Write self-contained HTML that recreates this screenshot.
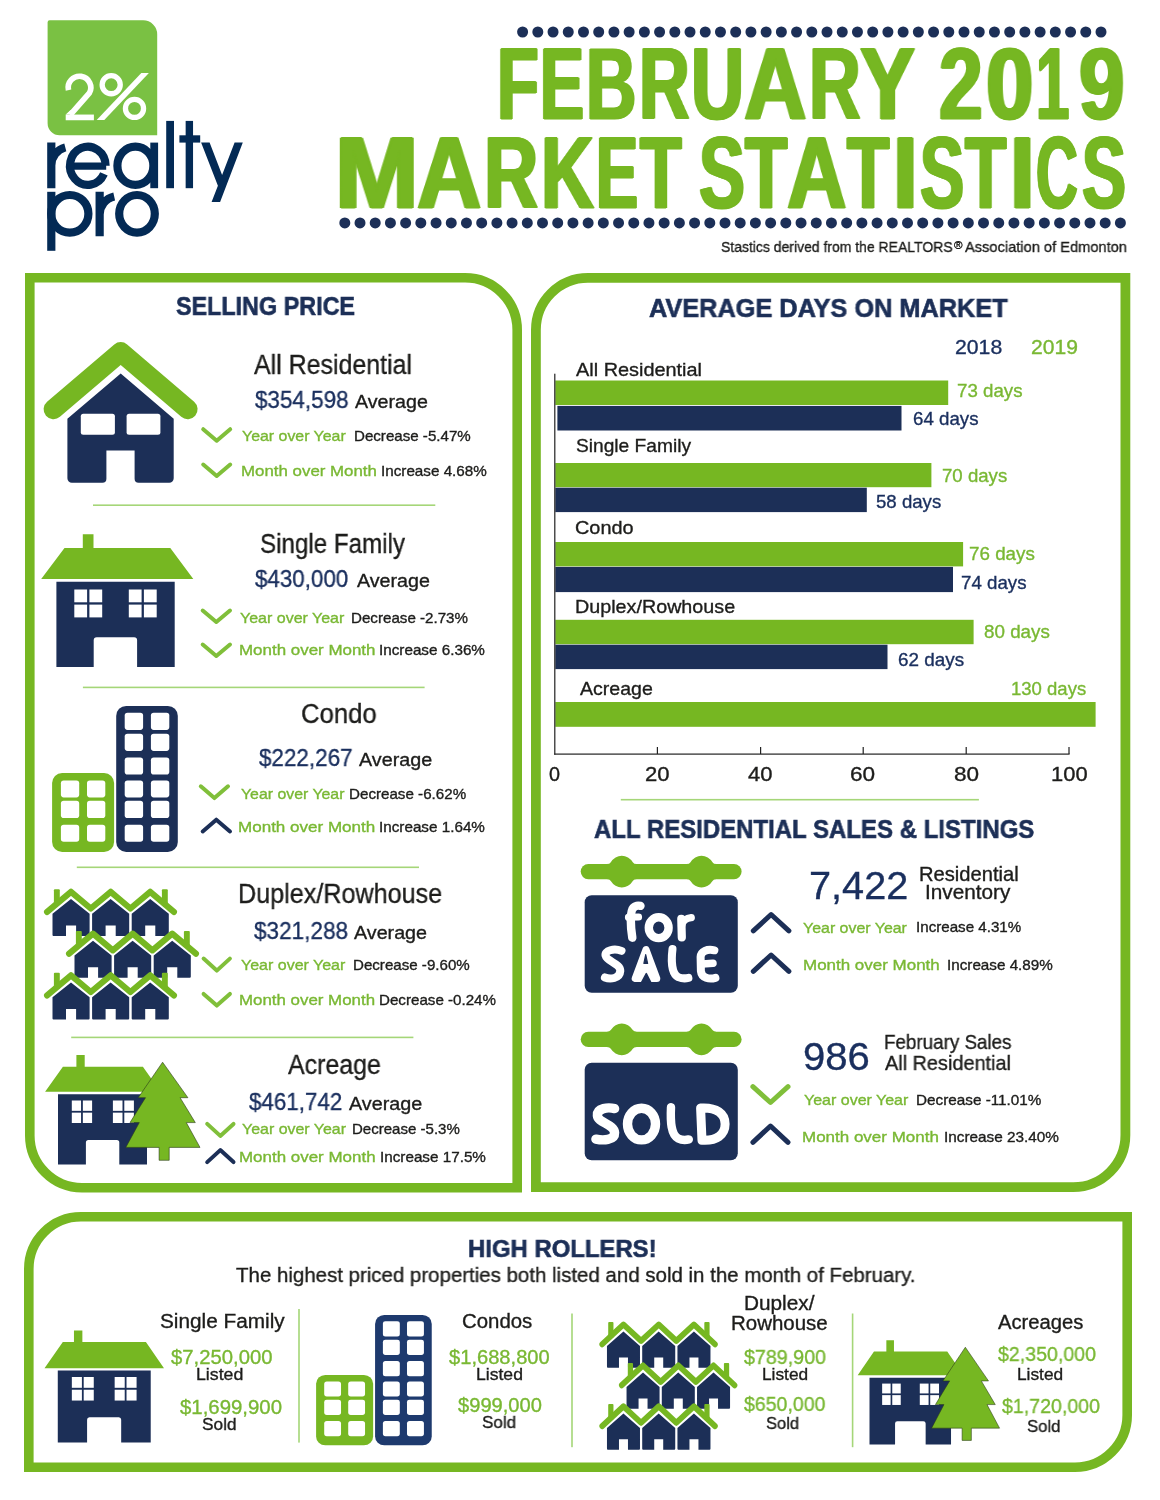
<!DOCTYPE html>
<html><head><meta charset="utf-8"><title>February 2019 Market Statistics</title>
<style>
html,body{margin:0;padding:0;background:#fff;}
body{width:1160px;height:1500px;position:relative;overflow:hidden;font-family:"Liberation Sans",sans-serif;}
svg.bg{position:absolute;left:0;top:0;}
.t{position:absolute;white-space:pre;line-height:1;transform-origin:0 0;font-family:"Liberation Sans",sans-serif;will-change:transform;}
</style></head><body>
<svg class="bg" width="1160" height="1500" viewBox="0 0 1160 1500">
<path d="M29.8,277.8 L465.00000000000006,277.8 A52.2,52.2 0 0 1 517.2,330.0 L517.2,1187.7 L82.0,1187.7 A52.2,52.2 0 0 1 29.8,1135.5 L29.8,277.8 Z" fill="#fff" stroke="#76B722" stroke-width="9.6" stroke-linejoin="miter"/>
<path d="M588.0,277.9 L1125.3999999999999,277.9 L1125.3999999999999,1135.0 A52.1,52.1 0 0 1 1073.3,1187.1 L535.9,1187.1 L535.9,330.0 A52.1,52.1 0 0 1 588.0,277.9 Z" fill="#fff" stroke="#76B722" stroke-width="9.8" stroke-linejoin="miter"/>
<path d="M81.0,1216.8 L1127.2,1216.8 L1127.2,1415.0 A52.2,52.2 0 0 1 1075.0,1467.2 L28.8,1467.2 L28.8,1269.0 A52.2,52.2 0 0 1 81.0,1216.8 Z" fill="#fff" stroke="#76B722" stroke-width="9.6" stroke-linejoin="miter"/>
<path d="M49.6,20.3 H143.2 A14,14 0 0 1 157.2,34.3 V135.2 H59.6 A12,12 0 0 1 47.6,123.2 V22.3 A2,2 0 0 1 49.6,20.3 Z" fill="#7AC143"/>
<path d="M51.3,142.6 V188.2 M51.3,165.4 A18.6,18.6 0 0 1 65.3,147.4" fill="none" stroke="#032A55" stroke-width="8.2"/>
<path d="M69.5,166.1 H106.2" fill="none" stroke="#032A55" stroke-width="7.2"/>
<path d="M105.6,165.8 A17.8,19.1 0 1 0 103.93,173.87" fill="none" stroke="#032A55" stroke-width="8.2"/>
<ellipse cx="135.4" cy="165.8" rx="18" ry="19.1" fill="none" stroke="#032A55" stroke-width="8.2"/>
<path d="M154.2,142.6 V188.2" fill="none" stroke="#032A55" stroke-width="7.8"/>
<path d="M170.1,120.9 V188.2" fill="none" stroke="#032A55" stroke-width="7.8"/>
<path d="M189.35,120.9 V188.2" fill="none" stroke="#032A55" stroke-width="7.4"/>
<path d="M179.4,138.95 H200.2" fill="none" stroke="#032A55" stroke-width="7.3"/>
<path d="M201.1,142.6 L209.6,142.6 L222.1,174.9 L234.6,142.6 L242.8,142.6 L220.1,202 L211.6,202 L217.9,185.8 Z" fill="#032A55"/>
<path d="M51.3,191.8 V250.8" fill="none" stroke="#032A55" stroke-width="8.2"/>
<ellipse cx="69.8" cy="213.8" rx="18.6" ry="18.8" fill="none" stroke="#032A55" stroke-width="8.2"/>
<path d="M99.65,191.8 V236.2 M99.65,214.5 A18.6,18.6 0 0 1 114.2,196.4" fill="none" stroke="#032A55" stroke-width="8.2"/>
<ellipse cx="137" cy="213.8" rx="17.8" ry="18.8" fill="none" stroke="#032A55" stroke-width="8.2"/>
<path d="M68.5,90.1 A11.3,11.3 0 1 1 89.3,93.2 L70.2,114.8" fill="none" stroke="#fff" stroke-width="5.7"/>
<path d="M65.7,117.4 H93.9" fill="none" stroke="#fff" stroke-width="5.7"/>
<path d="M65.7,114.6 L70.6,110 L74.2,114.6 Z" fill="#fff"/>
<circle cx="111.2" cy="84.7" r="9.05" fill="none" stroke="#fff" stroke-width="5.3"/>
<circle cx="134.5" cy="108.4" r="9.05" fill="none" stroke="#fff" stroke-width="5.3"/>
<path d="M141.3,73.1 H148.9 L104.3,119.9 H96.7 Z" fill="#fff"/>
<circle cx="522.60" cy="32" r="5.5" fill="#1C2F57"/>
<circle cx="537.82" cy="32" r="5.5" fill="#1C2F57"/>
<circle cx="553.04" cy="32" r="5.5" fill="#1C2F57"/>
<circle cx="568.26" cy="32" r="5.5" fill="#1C2F57"/>
<circle cx="583.48" cy="32" r="5.5" fill="#1C2F57"/>
<circle cx="598.71" cy="32" r="5.5" fill="#1C2F57"/>
<circle cx="613.93" cy="32" r="5.5" fill="#1C2F57"/>
<circle cx="629.15" cy="32" r="5.5" fill="#1C2F57"/>
<circle cx="644.37" cy="32" r="5.5" fill="#1C2F57"/>
<circle cx="659.59" cy="32" r="5.5" fill="#1C2F57"/>
<circle cx="674.81" cy="32" r="5.5" fill="#1C2F57"/>
<circle cx="690.03" cy="32" r="5.5" fill="#1C2F57"/>
<circle cx="705.25" cy="32" r="5.5" fill="#1C2F57"/>
<circle cx="720.47" cy="32" r="5.5" fill="#1C2F57"/>
<circle cx="735.69" cy="32" r="5.5" fill="#1C2F57"/>
<circle cx="750.92" cy="32" r="5.5" fill="#1C2F57"/>
<circle cx="766.14" cy="32" r="5.5" fill="#1C2F57"/>
<circle cx="781.36" cy="32" r="5.5" fill="#1C2F57"/>
<circle cx="796.58" cy="32" r="5.5" fill="#1C2F57"/>
<circle cx="811.80" cy="32" r="5.5" fill="#1C2F57"/>
<circle cx="827.02" cy="32" r="5.5" fill="#1C2F57"/>
<circle cx="842.24" cy="32" r="5.5" fill="#1C2F57"/>
<circle cx="857.46" cy="32" r="5.5" fill="#1C2F57"/>
<circle cx="872.68" cy="32" r="5.5" fill="#1C2F57"/>
<circle cx="887.91" cy="32" r="5.5" fill="#1C2F57"/>
<circle cx="903.13" cy="32" r="5.5" fill="#1C2F57"/>
<circle cx="918.35" cy="32" r="5.5" fill="#1C2F57"/>
<circle cx="933.57" cy="32" r="5.5" fill="#1C2F57"/>
<circle cx="948.79" cy="32" r="5.5" fill="#1C2F57"/>
<circle cx="964.01" cy="32" r="5.5" fill="#1C2F57"/>
<circle cx="979.23" cy="32" r="5.5" fill="#1C2F57"/>
<circle cx="994.45" cy="32" r="5.5" fill="#1C2F57"/>
<circle cx="1009.67" cy="32" r="5.5" fill="#1C2F57"/>
<circle cx="1024.89" cy="32" r="5.5" fill="#1C2F57"/>
<circle cx="1040.12" cy="32" r="5.5" fill="#1C2F57"/>
<circle cx="1055.34" cy="32" r="5.5" fill="#1C2F57"/>
<circle cx="1070.56" cy="32" r="5.5" fill="#1C2F57"/>
<circle cx="1085.78" cy="32" r="5.5" fill="#1C2F57"/>
<circle cx="1101.00" cy="32" r="5.5" fill="#1C2F57"/>
<circle cx="344.80" cy="222.9" r="5.5" fill="#1C2F57"/>
<circle cx="360.01" cy="222.9" r="5.5" fill="#1C2F57"/>
<circle cx="375.22" cy="222.9" r="5.5" fill="#1C2F57"/>
<circle cx="390.42" cy="222.9" r="5.5" fill="#1C2F57"/>
<circle cx="405.63" cy="222.9" r="5.5" fill="#1C2F57"/>
<circle cx="420.84" cy="222.9" r="5.5" fill="#1C2F57"/>
<circle cx="436.05" cy="222.9" r="5.5" fill="#1C2F57"/>
<circle cx="451.25" cy="222.9" r="5.5" fill="#1C2F57"/>
<circle cx="466.46" cy="222.9" r="5.5" fill="#1C2F57"/>
<circle cx="481.67" cy="222.9" r="5.5" fill="#1C2F57"/>
<circle cx="496.88" cy="222.9" r="5.5" fill="#1C2F57"/>
<circle cx="512.09" cy="222.9" r="5.5" fill="#1C2F57"/>
<circle cx="527.29" cy="222.9" r="5.5" fill="#1C2F57"/>
<circle cx="542.50" cy="222.9" r="5.5" fill="#1C2F57"/>
<circle cx="557.71" cy="222.9" r="5.5" fill="#1C2F57"/>
<circle cx="572.92" cy="222.9" r="5.5" fill="#1C2F57"/>
<circle cx="588.13" cy="222.9" r="5.5" fill="#1C2F57"/>
<circle cx="603.33" cy="222.9" r="5.5" fill="#1C2F57"/>
<circle cx="618.54" cy="222.9" r="5.5" fill="#1C2F57"/>
<circle cx="633.75" cy="222.9" r="5.5" fill="#1C2F57"/>
<circle cx="648.96" cy="222.9" r="5.5" fill="#1C2F57"/>
<circle cx="664.16" cy="222.9" r="5.5" fill="#1C2F57"/>
<circle cx="679.37" cy="222.9" r="5.5" fill="#1C2F57"/>
<circle cx="694.58" cy="222.9" r="5.5" fill="#1C2F57"/>
<circle cx="709.79" cy="222.9" r="5.5" fill="#1C2F57"/>
<circle cx="725.00" cy="222.9" r="5.5" fill="#1C2F57"/>
<circle cx="740.20" cy="222.9" r="5.5" fill="#1C2F57"/>
<circle cx="755.41" cy="222.9" r="5.5" fill="#1C2F57"/>
<circle cx="770.62" cy="222.9" r="5.5" fill="#1C2F57"/>
<circle cx="785.83" cy="222.9" r="5.5" fill="#1C2F57"/>
<circle cx="801.04" cy="222.9" r="5.5" fill="#1C2F57"/>
<circle cx="816.24" cy="222.9" r="5.5" fill="#1C2F57"/>
<circle cx="831.45" cy="222.9" r="5.5" fill="#1C2F57"/>
<circle cx="846.66" cy="222.9" r="5.5" fill="#1C2F57"/>
<circle cx="861.87" cy="222.9" r="5.5" fill="#1C2F57"/>
<circle cx="877.07" cy="222.9" r="5.5" fill="#1C2F57"/>
<circle cx="892.28" cy="222.9" r="5.5" fill="#1C2F57"/>
<circle cx="907.49" cy="222.9" r="5.5" fill="#1C2F57"/>
<circle cx="922.70" cy="222.9" r="5.5" fill="#1C2F57"/>
<circle cx="937.91" cy="222.9" r="5.5" fill="#1C2F57"/>
<circle cx="953.11" cy="222.9" r="5.5" fill="#1C2F57"/>
<circle cx="968.32" cy="222.9" r="5.5" fill="#1C2F57"/>
<circle cx="983.53" cy="222.9" r="5.5" fill="#1C2F57"/>
<circle cx="998.74" cy="222.9" r="5.5" fill="#1C2F57"/>
<circle cx="1013.95" cy="222.9" r="5.5" fill="#1C2F57"/>
<circle cx="1029.15" cy="222.9" r="5.5" fill="#1C2F57"/>
<circle cx="1044.36" cy="222.9" r="5.5" fill="#1C2F57"/>
<circle cx="1059.57" cy="222.9" r="5.5" fill="#1C2F57"/>
<circle cx="1074.78" cy="222.9" r="5.5" fill="#1C2F57"/>
<circle cx="1089.98" cy="222.9" r="5.5" fill="#1C2F57"/>
<circle cx="1105.19" cy="222.9" r="5.5" fill="#1C2F57"/>
<circle cx="1120.40" cy="222.9" r="5.5" fill="#1C2F57"/>
<path d="M203.2,429.2 L216.7,440.7 L230.2,429.2" fill="none" stroke="#80BF3A" stroke-width="4" stroke-linecap="round" stroke-linejoin="round"/>
<path d="M203.2,464.5 L216.7,476.0 L230.2,464.5" fill="none" stroke="#80BF3A" stroke-width="4" stroke-linecap="round" stroke-linejoin="round"/>
<path d="M202.7,610.5 L216.3,622.0 L230.0,610.5" fill="none" stroke="#80BF3A" stroke-width="4" stroke-linecap="round" stroke-linejoin="round"/>
<path d="M202.7,644.5 L216.3,656.0 L230.0,644.5" fill="none" stroke="#80BF3A" stroke-width="4" stroke-linecap="round" stroke-linejoin="round"/>
<path d="M200.8,786.3 L214.4,798.1 L228.0,786.3" fill="none" stroke="#80BF3A" stroke-width="4" stroke-linecap="round" stroke-linejoin="round"/>
<path d="M202.7,831.5 L216.3,819.7 L230.0,831.5" fill="none" stroke="#1C2F57" stroke-width="4" stroke-linecap="round" stroke-linejoin="round"/>
<path d="M203.6,958.6 L216.8,970.6 L229.9,958.6" fill="none" stroke="#80BF3A" stroke-width="4" stroke-linecap="round" stroke-linejoin="round"/>
<path d="M203.6,993.9 L216.8,1005.6 L229.9,993.9" fill="none" stroke="#80BF3A" stroke-width="4" stroke-linecap="round" stroke-linejoin="round"/>
<path d="M207.2,1123.9 L220.3,1135.9 L233.5,1123.9" fill="none" stroke="#80BF3A" stroke-width="4" stroke-linecap="round" stroke-linejoin="round"/>
<path d="M207.2,1162.1 L220.3,1150.1 L233.5,1162.1" fill="none" stroke="#1C2F57" stroke-width="4" stroke-linecap="round" stroke-linejoin="round"/>
<rect x="93" y="504.40" width="342.3" height="1.6" fill="#A5D678"/>
<rect x="82.9" y="686.60" width="341.7" height="1.6" fill="#A5D678"/>
<rect x="76.8" y="866.50" width="342.2" height="1.6" fill="#A5D678"/>
<rect x="71.2" y="1036.60" width="342.2" height="1.6" fill="#A5D678"/>
<path d="M67.4,418.8 L120.7,373.5 L173.7,418.8 V478.2 A4.5,4.5 0 0 1 169.2,482.7 H138.6 A4,4 0 0 1 134.6,478.7 V450.6 H106.4 V478.7 A4,4 0 0 1 102.4,482.7 H71.9 A4.5,4.5 0 0 1 67.4,478.2 Z" fill="#1C2F57"/>
<rect x="80.8" y="413.8" width="34.1" height="21" rx="2.5" fill="#fff"/>
<rect x="126.6" y="413.8" width="33.8" height="21" rx="2.5" fill="#fff"/>
<path d="M53.5,409.3 L120.7,352 L187.7,409.3" fill="none" stroke="#fff" stroke-width="26" stroke-linecap="round" stroke-linejoin="round"/>
<path d="M53.5,409.3 L120.7,352 L187.7,409.3" fill="none" stroke="#76B722" stroke-width="19.8" stroke-linecap="round" stroke-linejoin="round"/>
<g transform="translate(0,0) scale(1,1)"><path d="M41.2,579 L64.5,547.9 H82.8 V534.3 H93.5 V547.9 H170.3 L193.3,579 Z" fill="#76B722"/><g transform="translate(0,0)"><path d="M56.4,581.8 H174.7 V667.1 H137.1 V640.2 A3,3 0 0 0 134.1,637.2 H96.7 A3,3 0 0 0 93.7,640.2 V667.1 H56.4 Z" fill="#1C2F57"/><rect x="74.3" y="589.5" width="12.8" height="12.8" fill="#fff"/><rect x="89.4" y="589.5" width="12.8" height="12.8" fill="#fff"/><rect x="74.3" y="604.6" width="12.8" height="12.8" fill="#fff"/><rect x="89.4" y="604.6" width="12.8" height="12.8" fill="#fff"/><rect x="128.8" y="589.5" width="12.8" height="12.8" fill="#fff"/><rect x="143.9" y="589.5" width="12.8" height="12.8" fill="#fff"/><rect x="128.8" y="604.6" width="12.8" height="12.8" fill="#fff"/><rect x="143.9" y="604.6" width="12.8" height="12.8" fill="#fff"/></g></g>
<g transform="translate(0,0) scale(1,1)"><rect x="116.2" y="705.9" width="61.6" height="146.1" rx="10" fill="#1C2F57"/><rect x="124.7" y="712.8" width="18.4" height="17.1" rx="2.8" fill="#fff"/><rect x="150.9" y="712.8" width="18.4" height="17.1" rx="2.8" fill="#fff"/><rect x="124.7" y="733.8" width="18.4" height="17.1" rx="2.8" fill="#fff"/><rect x="150.9" y="733.8" width="18.4" height="17.1" rx="2.8" fill="#fff"/><rect x="124.7" y="757.4" width="18.4" height="17.2" rx="2.8" fill="#fff"/><rect x="150.9" y="757.4" width="18.4" height="17.2" rx="2.8" fill="#fff"/><rect x="124.7" y="780.4" width="18.4" height="17.0" rx="2.8" fill="#fff"/><rect x="150.9" y="780.4" width="18.4" height="17.0" rx="2.8" fill="#fff"/><rect x="124.7" y="800.8" width="18.4" height="17.3" rx="2.8" fill="#fff"/><rect x="150.9" y="800.8" width="18.4" height="17.3" rx="2.8" fill="#fff"/><rect x="124.7" y="824.7" width="18.4" height="17.1" rx="2.8" fill="#fff"/><rect x="150.9" y="824.7" width="18.4" height="17.1" rx="2.8" fill="#fff"/><rect x="52.1" y="773.1" width="62" height="78.9" rx="10" fill="#76B722"/><rect x="60.9" y="780.4" width="18.3" height="17.0" rx="2.8" fill="#fff"/><rect x="87" y="780.4" width="18.3" height="17.0" rx="2.8" fill="#fff"/><rect x="60.9" y="800.8" width="18.3" height="17.3" rx="2.8" fill="#fff"/><rect x="87" y="800.8" width="18.3" height="17.3" rx="2.8" fill="#fff"/><rect x="60.9" y="824.7" width="18.3" height="17.1" rx="2.8" fill="#fff"/><rect x="87" y="824.7" width="18.3" height="17.1" rx="2.8" fill="#fff"/></g>
<g transform="translate(0,0) scale(1,1)"><path d="M52.5,913.8 L71.0,899.0 L89.6,913.8 V935.0 a1,1 0 0 1 -1,1 H76.1 V925.4 H66.0 V936.0 H53.5 a1,1 0 0 1 -1,-1 Z" fill="#1C2F57"/><path d="M92.1,913.8 L110.6,899.0 L129.2,913.8 V935.0 a1,1 0 0 1 -1,1 H115.7 V925.4 H105.6 V936.0 H93.1 a1,1 0 0 1 -1,-1 Z" fill="#1C2F57"/><path d="M131.7,913.8 L150.2,899.0 L168.8,913.8 V935.0 a1,1 0 0 1 -1,1 H155.3 V925.4 H145.2 V936.0 H132.7 a1,1 0 0 1 -1,-1 Z" fill="#1C2F57"/><rect x="53.9" y="889.3" width="5.9" height="16" rx="1" fill="#76B722"/><rect x="161.9" y="889.3" width="5.9" height="16" rx="1" fill="#76B722"/><path d="M47.1,911.9 L71.0,891.8 L90.8,908.5 L110.7,891.8 L130.4,908.5 L150.2,891.8 L173.9,911.9" fill="none" stroke="#fff" stroke-width="9.4" stroke-linecap="butt" stroke-linejoin="miter" opacity="0"/><path d="M47.1,911.9 L71.0,891.8 L90.8,908.5 L110.7,891.8 L130.4,908.5 L150.2,891.8 L173.9,911.9" fill="none" stroke="#76B722" stroke-width="6.2" stroke-linecap="round" stroke-linejoin="round"/><path d="M74.5,955.6 L93.0,940.8 L111.6,955.6 V976.8 a1,1 0 0 1 -1,1 H98.1 V967.2 H88.0 V977.8 H75.5 a1,1 0 0 1 -1,-1 Z" fill="#1C2F57"/><path d="M114.1,955.6 L132.6,940.8 L151.2,955.6 V976.8 a1,1 0 0 1 -1,1 H137.7 V967.2 H127.6 V977.8 H115.1 a1,1 0 0 1 -1,-1 Z" fill="#1C2F57"/><path d="M153.7,955.6 L172.2,940.8 L190.8,955.6 V976.8 a1,1 0 0 1 -1,1 H177.3 V967.2 H167.2 V977.8 H154.7 a1,1 0 0 1 -1,-1 Z" fill="#1C2F57"/><rect x="75.9" y="931.1" width="5.9" height="16" rx="1" fill="#76B722"/><rect x="183.9" y="931.1" width="5.9" height="16" rx="1" fill="#76B722"/><path d="M69.1,953.7 L93.0,933.6 L112.8,950.3 L132.7,933.6 L152.4,950.3 L172.2,933.6 L195.9,953.7" fill="none" stroke="#fff" stroke-width="9.4" stroke-linecap="butt" stroke-linejoin="miter" opacity="0"/><path d="M69.1,953.7 L93.0,933.6 L112.8,950.3 L132.7,933.6 L152.4,950.3 L172.2,933.6 L195.9,953.7" fill="none" stroke="#76B722" stroke-width="6.2" stroke-linecap="round" stroke-linejoin="round"/><path d="M52.5,997.3 L71.0,982.5 L89.6,997.3 V1018.5 a1,1 0 0 1 -1,1 H76.1 V1008.9 H66.0 V1019.5 H53.5 a1,1 0 0 1 -1,-1 Z" fill="#1C2F57"/><path d="M92.1,997.3 L110.6,982.5 L129.2,997.3 V1018.5 a1,1 0 0 1 -1,1 H115.7 V1008.9 H105.6 V1019.5 H93.1 a1,1 0 0 1 -1,-1 Z" fill="#1C2F57"/><path d="M131.7,997.3 L150.2,982.5 L168.8,997.3 V1018.5 a1,1 0 0 1 -1,1 H155.3 V1008.9 H145.2 V1019.5 H132.7 a1,1 0 0 1 -1,-1 Z" fill="#1C2F57"/><rect x="53.9" y="972.8" width="5.9" height="16" rx="1" fill="#76B722"/><rect x="161.9" y="972.8" width="5.9" height="16" rx="1" fill="#76B722"/><path d="M47.1,995.4 L71.0,975.3 L90.8,992.0 L110.7,975.3 L130.4,992.0 L150.2,975.3 L173.9,995.4" fill="none" stroke="#fff" stroke-width="9.4" stroke-linecap="butt" stroke-linejoin="miter" opacity="0"/><path d="M47.1,995.4 L71.0,975.3 L90.8,992.0 L110.7,975.3 L130.4,992.0 L150.2,975.3 L173.9,995.4" fill="none" stroke="#76B722" stroke-width="6.2" stroke-linecap="round" stroke-linejoin="round"/></g>
<g transform="translate(0,0) scale(1,1)"><path d="M45.1,1091.7 L62.9,1066.7 H76.4 V1055 H84.7 V1066.7 H142.9 L160.6,1091.7 Z" fill="#76B722"/><path d="M58,1094.3 H147 V1164.6 H119.3 V1142.6 A2.5,2.5 0 0 0 116.8,1140.1 H88.4 A2.5,2.5 0 0 0 85.9,1142.6 V1164.6 H58 Z" fill="#1C2F57"/><rect x="71.80" y="1100.50" width="9.25" height="10.35" fill="#fff"/><rect x="82.85" y="1100.50" width="9.25" height="10.35" fill="#fff"/><rect x="71.80" y="1112.65" width="9.25" height="10.35" fill="#fff"/><rect x="82.85" y="1112.65" width="9.25" height="10.35" fill="#fff"/><rect x="112.90" y="1100.50" width="9.60" height="10.35" fill="#fff"/><rect x="124.30" y="1100.50" width="9.60" height="10.35" fill="#fff"/><rect x="112.90" y="1112.65" width="9.60" height="10.35" fill="#fff"/><rect x="124.30" y="1112.65" width="9.60" height="10.35" fill="#fff"/><path d="M162.6,1062.2 L187.9,1097.7 L180.1,1097.7 L195.3,1122.6 L186.3,1122.6 L200,1147.4 L169.2,1147.4 L169.2,1160.3 L159.1,1160.3 L159.1,1147.4 L125.8,1147.4 L139.3,1122.6 L130,1122.6 L145.5,1097.7 L138.2,1097.7 Z" fill="#76B722" stroke="#2a3a1a" stroke-width="0.6"/></g>
<rect x="555.3" y="380.5" width="392.9" height="24.5" fill="#76B722"/>
<rect x="557.4" y="405.9" width="344.1" height="24.6" fill="#1C2F57"/>
<rect x="555.3" y="463" width="376.1" height="24.2" fill="#76B722"/>
<rect x="555.3" y="487.7" width="311.5" height="24.4" fill="#1C2F57"/>
<rect x="555.3" y="542" width="407.8" height="24.4" fill="#76B722"/>
<rect x="555.3" y="566.9" width="397.7" height="25.2" fill="#1C2F57"/>
<rect x="555.3" y="619.8" width="418.3" height="24.4" fill="#76B722"/>
<rect x="555.3" y="644.7" width="332.2" height="24.4" fill="#1C2F57"/>
<rect x="555.3" y="702" width="540.3" height="24.8" fill="#76B722"/>
<rect x="554.2" y="373.7" width="1.2" height="381" fill="#222"/>
<rect x="554.2" y="753.5" width="515.4" height="1.2" fill="#222"/>
<rect x="656.8" y="747" width="1.2" height="7" fill="#222"/>
<rect x="760.0" y="747" width="1.2" height="7" fill="#222"/>
<rect x="862.6" y="747" width="1.2" height="7" fill="#222"/>
<rect x="965.6" y="747" width="1.2" height="7" fill="#222"/>
<rect x="1068.4" y="747" width="1.2" height="7" fill="#222"/>
<rect x="620.8" y="798.90" width="358.1" height="1.6" fill="#A5D678"/>
<rect x="580.7" y="864.0" width="160.9" height="15.2" rx="7.6" fill="#76B722"/>
<path d="M606.8,864.10 Q609.7,864.00 610.8,862.20 A13.4,15.3 0 0 1 632.8,862.20 Q633.9,864.00 636.8,864.10 V879.10 Q633.9,879.20 632.8,881.00 A13.4,15.3 0 0 1 610.8,881.00 Q609.7,879.20 606.8,879.10 Z" fill="#76B722"/>
<path d="M686.5,864.10 Q689.4,864.00 690.5,862.20 A13.4,15.3 0 0 1 712.5,862.20 Q713.6,864.00 716.5,864.10 V879.10 Q713.6,879.20 712.5,881.00 A13.4,15.3 0 0 1 690.5,881.00 Q689.4,879.20 686.5,879.10 Z" fill="#76B722"/>
<rect x="584.7" y="895.2" width="153.1" height="97.6" rx="7" fill="#1C2F57"/>
<rect x="580.7" y="1031.8" width="160.9" height="15.2" rx="7.6" fill="#76B722"/>
<path d="M606.8,1031.90 Q609.7,1031.80 610.8,1030.00 A13.4,15.3 0 0 1 632.8,1030.00 Q633.9,1031.80 636.8,1031.90 V1046.90 Q633.9,1047.00 632.8,1048.80 A13.4,15.3 0 0 1 610.8,1048.80 Q609.7,1047.00 606.8,1046.90 Z" fill="#76B722"/>
<path d="M686.5,1031.90 Q689.4,1031.80 690.5,1030.00 A13.4,15.3 0 0 1 712.5,1030.00 Q713.6,1031.80 716.5,1031.90 V1046.90 Q713.6,1047.00 712.5,1048.80 A13.4,15.3 0 0 1 690.5,1048.80 Q689.4,1047.00 686.5,1046.90 Z" fill="#76B722"/>
<rect x="584.7" y="1062.8" width="153.1" height="97.5" rx="7" fill="#1C2F57"/>
<path d="M632.3,937.7 C630.5,927.0 629.8,911.3 633.3,907.8 C635.5,905.4 638.3,905.4 640.5,905.9" fill="none" stroke="#fff" stroke-width="8.4" stroke-linecap="round" stroke-linejoin="round"/>
<path d="M628.4,917.3 L638.6,917.0" fill="none" stroke="#fff" stroke-width="7" stroke-linecap="round" stroke-linejoin="round"/>
<ellipse cx="658.7" cy="927.7" rx="9.9" ry="10.4" fill="none" stroke="#fff" stroke-width="8.4"/>
<path d="M681.3,918.9 L681.8,937.4" fill="none" stroke="#fff" stroke-width="8.2" stroke-linecap="round" stroke-linejoin="round"/>
<path d="M681.6,925.6 C682.4,920.6 686.7,918.0 691.2,917.6" fill="none" stroke="#fff" stroke-width="7.4" stroke-linecap="round" stroke-linejoin="round"/>
<path d="M621.5,950.9 C614.1,948.0 604.2,950.5 605.6,955.7 C607.0,961.8 620.5,963.3 620.3,971.1 C619.8,978.9 609.9,979.6 604.9,977.5" fill="none" stroke="#fff" stroke-width="8" stroke-linecap="round" stroke-linejoin="round"/>
<path d="M646.0,949.5 L635.2,978.5 L656.8,978.5 Z" fill="#fff" stroke="#fff" stroke-width="7" stroke-linejoin="round"/>
<path d="M641.2,983.2 L646.3,973.6 L651.1,983.2 Z" fill="#1C2F57" stroke="#1C2F57" stroke-width="1.5" stroke-linejoin="round"/>
<path d="M645.7,954.7 L643.9,963.4 L647.6,963.4 Z" fill="#1C2F57" stroke="#1C2F57" stroke-width="1.2" stroke-linejoin="round"/>
<path d="M672.5,949.0 C671.0,961.1 671.7,973.9 678.2,977.1 C681.7,978.5 686.0,978.5 688.4,977.9" fill="none" stroke="#fff" stroke-width="8" stroke-linecap="round" stroke-linejoin="round"/>
<path d="M714.4,950.3 C707.3,948.6 700.9,951.2 700.6,956.9 L700.9,971.1 C701.6,978.2 709.4,979.6 715.4,977.9" fill="none" stroke="#fff" stroke-width="8" stroke-linecap="round" stroke-linejoin="round"/>
<path d="M702.3,964.0 L713.0,963.3" fill="none" stroke="#fff" stroke-width="7.5" stroke-linecap="round" stroke-linejoin="round"/>
<path d="M614.6,1108.6 C608.4,1107.1 596.8,1107.8 597.4,1115.6 C597.9,1122.7 614.1,1124.1 614.6,1132.7 C614.9,1140.5 602.8,1140.5 595.9,1139.1" fill="none" stroke="#fff" stroke-width="9.4" stroke-linecap="round" stroke-linejoin="round"/>
<ellipse cx="641.5" cy="1124.1" rx="14.0" ry="15.8" fill="none" stroke="#fff" stroke-width="9.4"/>
<path d="M671.0,1107.1 C670.3,1122.0 671.0,1134.8 678.2,1138.4 C681.7,1140.2 686.0,1140.2 688.8,1139.4" fill="none" stroke="#fff" stroke-width="8.4" stroke-linecap="round" stroke-linejoin="round"/>
<path d="M700.6,1108.1 L702.0,1140.2 C716.6,1141.2 725.1,1134.8 725.1,1124.1 C725.1,1113.5 716.6,1107.1 700.6,1108.1" fill="none" stroke="#fff" stroke-width="9" stroke-linecap="round" stroke-linejoin="round"/>
<path d="M753.3,930.9 L771.1,914.5 L788.9,930.9" fill="none" stroke="#1C2F57" stroke-width="5" stroke-linecap="round" stroke-linejoin="round"/>
<path d="M753.3,971.3 L771.1,955.0 L788.9,971.3" fill="none" stroke="#1C2F57" stroke-width="5" stroke-linecap="round" stroke-linejoin="round"/>
<path d="M752.9,1086.7 L770.5,1102.5 L788.0,1086.7" fill="none" stroke="#80BF3A" stroke-width="5" stroke-linecap="round" stroke-linejoin="round"/>
<path d="M752.9,1142.3 L770.5,1126.0 L788.0,1142.3" fill="none" stroke="#1C2F57" stroke-width="5" stroke-linecap="round" stroke-linejoin="round"/>
<rect x="298.20" y="1309" width="1.6" height="133.6" fill="#A5D678"/>
<rect x="571.20" y="1313.5" width="1.6" height="133.7" fill="#A5D678"/>
<rect x="851.80" y="1313.5" width="1.6" height="133.7" fill="#A5D678"/>
<g transform="translate(12.130506245890864,879.4144196951938) scale(0.7856673241288624,0.8440797186400931)"><path d="M41.2,579 L64.5,547.9 H78.7 V534.3 H89.4 V547.9 H170.3 L193.3,579 Z" fill="#76B722"/><g transform="translate(1.7,0)"><path d="M56.4,581.8 H174.7 V667.1 H137.1 V640.2 A3,3 0 0 0 134.1,637.2 H96.7 A3,3 0 0 0 93.7,640.2 V667.1 H56.4 Z" fill="#1C2F57"/><rect x="74.3" y="589.5" width="12.8" height="12.8" fill="#fff"/><rect x="89.4" y="589.5" width="12.8" height="12.8" fill="#fff"/><rect x="74.3" y="604.6" width="12.8" height="12.8" fill="#fff"/><rect x="89.4" y="604.6" width="12.8" height="12.8" fill="#fff"/><rect x="128.8" y="589.5" width="12.8" height="12.8" fill="#fff"/><rect x="143.9" y="589.5" width="12.8" height="12.8" fill="#fff"/><rect x="128.8" y="604.6" width="12.8" height="12.8" fill="#fff"/><rect x="143.9" y="604.6" width="12.8" height="12.8" fill="#fff"/></g></g>
<g transform="translate(268.168,685.3159999999999) scale(0.92,0.892)"><rect x="116.2" y="705.9" width="61.6" height="146.1" rx="10" fill="#1E3A6E"/><rect x="124.7" y="712.8" width="18.4" height="17.1" rx="2.8" fill="#fff"/><rect x="150.9" y="712.8" width="18.4" height="17.1" rx="2.8" fill="#fff"/><rect x="124.7" y="733.8" width="18.4" height="17.1" rx="2.8" fill="#fff"/><rect x="150.9" y="733.8" width="18.4" height="17.1" rx="2.8" fill="#fff"/><rect x="124.7" y="757.4" width="18.4" height="17.2" rx="2.8" fill="#fff"/><rect x="150.9" y="757.4" width="18.4" height="17.2" rx="2.8" fill="#fff"/><rect x="124.7" y="780.4" width="18.4" height="17.0" rx="2.8" fill="#fff"/><rect x="150.9" y="780.4" width="18.4" height="17.0" rx="2.8" fill="#fff"/><rect x="124.7" y="800.8" width="18.4" height="17.3" rx="2.8" fill="#fff"/><rect x="150.9" y="800.8" width="18.4" height="17.3" rx="2.8" fill="#fff"/><rect x="124.7" y="824.7" width="18.4" height="17.1" rx="2.8" fill="#fff"/><rect x="150.9" y="824.7" width="18.4" height="17.1" rx="2.8" fill="#fff"/><rect x="52.1" y="773.1" width="62" height="78.9" rx="10" fill="#76B722"/><rect x="60.9" y="780.4" width="18.3" height="17.0" rx="2.8" fill="#fff"/><rect x="87" y="780.4" width="18.3" height="17.0" rx="2.8" fill="#fff"/><rect x="60.9" y="800.8" width="18.3" height="17.3" rx="2.8" fill="#fff"/><rect x="87" y="800.8" width="18.3" height="17.3" rx="2.8" fill="#fff"/><rect x="60.9" y="824.7" width="18.3" height="17.1" rx="2.8" fill="#fff"/><rect x="87" y="824.7" width="18.3" height="17.1" rx="2.8" fill="#fff"/></g>
<g transform="translate(560.24,450.57399999999996) scale(0.89,0.98)"><path d="M52.5,913.8 L71.0,899.0 L89.6,913.8 V935.0 a1,1 0 0 1 -1,1 H76.1 V925.4 H66.0 V936.0 H53.5 a1,1 0 0 1 -1,-1 Z" fill="#1C2F57"/><path d="M92.1,913.8 L110.6,899.0 L129.2,913.8 V935.0 a1,1 0 0 1 -1,1 H115.7 V925.4 H105.6 V936.0 H93.1 a1,1 0 0 1 -1,-1 Z" fill="#1C2F57"/><path d="M131.7,913.8 L150.2,899.0 L168.8,913.8 V935.0 a1,1 0 0 1 -1,1 H155.3 V925.4 H145.2 V936.0 H132.7 a1,1 0 0 1 -1,-1 Z" fill="#1C2F57"/><rect x="53.9" y="889.3" width="5.9" height="16" rx="1" fill="#76B722"/><rect x="161.9" y="889.3" width="5.9" height="16" rx="1" fill="#76B722"/><path d="M47.1,911.9 L71.0,891.8 L90.8,908.5 L110.7,891.8 L130.4,908.5 L150.2,891.8 L173.9,911.9" fill="none" stroke="#fff" stroke-width="9.4" stroke-linecap="butt" stroke-linejoin="miter" opacity="0"/><path d="M47.1,911.9 L71.0,891.8 L90.8,908.5 L110.7,891.8 L130.4,908.5 L150.2,891.8 L173.9,911.9" fill="none" stroke="#76B722" stroke-width="6.2" stroke-linecap="round" stroke-linejoin="round"/><path d="M74.5,955.6 L93.0,940.8 L111.6,955.6 V976.8 a1,1 0 0 1 -1,1 H98.1 V967.2 H88.0 V977.8 H75.5 a1,1 0 0 1 -1,-1 Z" fill="#1C2F57"/><path d="M114.1,955.6 L132.6,940.8 L151.2,955.6 V976.8 a1,1 0 0 1 -1,1 H137.7 V967.2 H127.6 V977.8 H115.1 a1,1 0 0 1 -1,-1 Z" fill="#1C2F57"/><path d="M153.7,955.6 L172.2,940.8 L190.8,955.6 V976.8 a1,1 0 0 1 -1,1 H177.3 V967.2 H167.2 V977.8 H154.7 a1,1 0 0 1 -1,-1 Z" fill="#1C2F57"/><rect x="75.9" y="931.1" width="5.9" height="16" rx="1" fill="#76B722"/><rect x="183.9" y="931.1" width="5.9" height="16" rx="1" fill="#76B722"/><path d="M69.1,953.7 L93.0,933.6 L112.8,950.3 L132.7,933.6 L152.4,950.3 L172.2,933.6 L195.9,953.7" fill="none" stroke="#fff" stroke-width="9.4" stroke-linecap="butt" stroke-linejoin="miter" opacity="0"/><path d="M69.1,953.7 L93.0,933.6 L112.8,950.3 L132.7,933.6 L152.4,950.3 L172.2,933.6 L195.9,953.7" fill="none" stroke="#76B722" stroke-width="6.2" stroke-linecap="round" stroke-linejoin="round"/><path d="M52.5,997.3 L71.0,982.5 L89.6,997.3 V1018.5 a1,1 0 0 1 -1,1 H76.1 V1008.9 H66.0 V1019.5 H53.5 a1,1 0 0 1 -1,-1 Z" fill="#1C2F57"/><path d="M92.1,997.3 L110.6,982.5 L129.2,997.3 V1018.5 a1,1 0 0 1 -1,1 H115.7 V1008.9 H105.6 V1019.5 H93.1 a1,1 0 0 1 -1,-1 Z" fill="#1C2F57"/><path d="M131.7,997.3 L150.2,982.5 L168.8,997.3 V1018.5 a1,1 0 0 1 -1,1 H155.3 V1008.9 H145.2 V1019.5 H132.7 a1,1 0 0 1 -1,-1 Z" fill="#1C2F57"/><rect x="53.9" y="972.8" width="5.9" height="16" rx="1" fill="#76B722"/><rect x="161.9" y="972.8" width="5.9" height="16" rx="1" fill="#76B722"/><path d="M47.1,995.4 L71.0,975.3 L90.8,992.0 L110.7,975.3 L130.4,992.0 L150.2,975.3 L173.9,995.4" fill="none" stroke="#fff" stroke-width="9.4" stroke-linecap="butt" stroke-linejoin="miter" opacity="0"/><path d="M47.1,995.4 L71.0,975.3 L90.8,992.0 L110.7,975.3 L130.4,992.0 L150.2,975.3 L173.9,995.4" fill="none" stroke="#76B722" stroke-width="6.2" stroke-linecap="round" stroke-linejoin="round"/></g>
<g transform="translate(816.372,338.11500000000024) scale(0.916,0.95)"><path d="M45.1,1091.7 L62.9,1066.7 H76.4 V1055 H84.7 V1066.7 H142.9 L160.6,1091.7 Z" fill="#76B722"/><path d="M58,1094.3 H147 V1164.6 H119.3 V1142.6 A2.5,2.5 0 0 0 116.8,1140.1 H88.4 A2.5,2.5 0 0 0 85.9,1142.6 V1164.6 H58 Z" fill="#1C2F57"/><rect x="71.80" y="1100.50" width="9.25" height="10.35" fill="#fff"/><rect x="82.85" y="1100.50" width="9.25" height="10.35" fill="#fff"/><rect x="71.80" y="1112.65" width="9.25" height="10.35" fill="#fff"/><rect x="82.85" y="1112.65" width="9.25" height="10.35" fill="#fff"/><rect x="112.90" y="1100.50" width="9.60" height="10.35" fill="#fff"/><rect x="124.30" y="1100.50" width="9.60" height="10.35" fill="#fff"/><rect x="112.90" y="1112.65" width="9.60" height="10.35" fill="#fff"/><rect x="124.30" y="1112.65" width="9.60" height="10.35" fill="#fff"/><path d="M162.6,1062.2 L187.9,1097.7 L180.1,1097.7 L195.3,1122.6 L186.3,1122.6 L200,1147.4 L169.2,1147.4 L169.2,1160.3 L159.1,1160.3 L159.1,1147.4 L125.8,1147.4 L139.3,1122.6 L130,1122.6 L145.5,1097.7 L138.2,1097.7 Z" fill="#76B722" stroke="#2a3a1a" stroke-width="0.6"/></g>
</svg>
<div class="t" style="left:497.41px;top:34.00px;font-size:101.5px;color:#76B722;font-weight:bold;transform:scaleX(0.6732);-webkit-text-stroke:1.2px #76B722;text-shadow:1.9px 0 0 #76B722,-1.9px 0 0 #76B722;">F</div>
<div class="t" style="left:539.90px;top:34.00px;font-size:101.5px;color:#76B722;font-weight:bold;transform:scaleX(0.6501);-webkit-text-stroke:1.2px #76B722;text-shadow:1.9px 0 0 #76B722,-1.9px 0 0 #76B722;">E</div>
<div class="t" style="left:586.17px;top:34.00px;font-size:101.5px;color:#76B722;font-weight:bold;transform:scaleX(0.6853);-webkit-text-stroke:1.2px #76B722;text-shadow:1.9px 0 0 #76B722,-1.9px 0 0 #76B722;">B</div>
<div class="t" style="left:638.55px;top:34.00px;font-size:101.5px;color:#76B722;font-weight:bold;transform:scaleX(0.6898);-webkit-text-stroke:1.2px #76B722;text-shadow:1.9px 0 0 #76B722,-1.9px 0 0 #76B722;">R</div>
<div class="t" style="left:691.47px;top:34.00px;font-size:101.5px;color:#76B722;font-weight:bold;transform:scaleX(0.7218);-webkit-text-stroke:1.2px #76B722;text-shadow:1.9px 0 0 #76B722,-1.9px 0 0 #76B722;">U</div>
<div class="t" style="left:744.38px;top:34.00px;font-size:101.5px;color:#76B722;font-weight:bold;transform:scaleX(0.8532);-webkit-text-stroke:1.2px #76B722;text-shadow:1.9px 0 0 #76B722,-1.9px 0 0 #76B722;">A</div>
<div class="t" style="left:808.89px;top:34.00px;font-size:101.5px;color:#76B722;font-weight:bold;transform:scaleX(0.7040);-webkit-text-stroke:1.2px #76B722;text-shadow:1.9px 0 0 #76B722,-1.9px 0 0 #76B722;">R</div>
<div class="t" style="left:859.84px;top:34.00px;font-size:101.5px;color:#76B722;font-weight:bold;transform:scaleX(0.8126);-webkit-text-stroke:1.2px #76B722;text-shadow:1.9px 0 0 #76B722,-1.9px 0 0 #76B722;">Y</div>
<div class="t" style="left:938.98px;top:34.00px;font-size:101.5px;color:#76B722;font-weight:bold;transform:scaleX(0.7731);-webkit-text-stroke:1.2px #76B722;text-shadow:1.9px 0 0 #76B722,-1.9px 0 0 #76B722;">2</div>
<div class="t" style="left:986.14px;top:34.00px;font-size:101.5px;color:#76B722;font-weight:bold;transform:scaleX(0.8400);-webkit-text-stroke:1.2px #76B722;text-shadow:1.9px 0 0 #76B722,-1.9px 0 0 #76B722;">0</div>
<div class="t" style="left:1036.13px;top:34.00px;font-size:101.5px;color:#76B722;font-weight:bold;transform:scaleX(0.5915);-webkit-text-stroke:1.2px #76B722;text-shadow:1.9px 0 0 #76B722,-1.9px 0 0 #76B722;">1</div>
<div class="t" style="left:1079.26px;top:34.00px;font-size:101.5px;color:#76B722;font-weight:bold;transform:scaleX(0.8054);-webkit-text-stroke:1.2px #76B722;text-shadow:1.9px 0 0 #76B722,-1.9px 0 0 #76B722;">9</div>
<div class="t" style="left:335.31px;top:123.00px;font-size:101.5px;color:#76B722;font-weight:bold;transform:scaleX(0.9865);-webkit-text-stroke:1.2px #76B722;text-shadow:1.9px 0 0 #76B722,-1.9px 0 0 #76B722;">M</div>
<div class="t" style="left:416.80px;top:123.00px;font-size:101.5px;color:#76B722;font-weight:bold;transform:scaleX(0.8772);-webkit-text-stroke:1.2px #76B722;text-shadow:1.9px 0 0 #76B722,-1.9px 0 0 #76B722;">A</div>
<div class="t" style="left:483.86px;top:123.00px;font-size:101.5px;color:#76B722;font-weight:bold;transform:scaleX(0.7383);-webkit-text-stroke:1.2px #76B722;text-shadow:1.9px 0 0 #76B722,-1.9px 0 0 #76B722;">R</div>
<div class="t" style="left:540.82px;top:123.00px;font-size:101.5px;color:#76B722;font-weight:bold;transform:scaleX(0.7220);-webkit-text-stroke:1.2px #76B722;text-shadow:1.9px 0 0 #76B722,-1.9px 0 0 #76B722;">K</div>
<div class="t" style="left:596.41px;top:123.00px;font-size:101.5px;color:#76B722;font-weight:bold;transform:scaleX(0.6219);-webkit-text-stroke:1.2px #76B722;text-shadow:1.9px 0 0 #76B722,-1.9px 0 0 #76B722;">E</div>
<div class="t" style="left:640.08px;top:123.00px;font-size:101.5px;color:#76B722;font-weight:bold;transform:scaleX(0.6716);-webkit-text-stroke:1.2px #76B722;text-shadow:1.9px 0 0 #76B722,-1.9px 0 0 #76B722;">T</div>
<div class="t" style="left:698.62px;top:123.00px;font-size:101.5px;color:#76B722;font-weight:bold;transform:scaleX(0.6765);-webkit-text-stroke:1.2px #76B722;text-shadow:1.9px 0 0 #76B722,-1.9px 0 0 #76B722;">S</div>
<div class="t" style="left:745.30px;top:123.00px;font-size:101.5px;color:#76B722;font-weight:bold;transform:scaleX(0.6806);-webkit-text-stroke:1.2px #76B722;text-shadow:1.9px 0 0 #76B722,-1.9px 0 0 #76B722;">T</div>
<div class="t" style="left:786.74px;top:123.00px;font-size:101.5px;color:#76B722;font-weight:bold;transform:scaleX(0.8117);-webkit-text-stroke:1.2px #76B722;text-shadow:1.9px 0 0 #76B722,-1.9px 0 0 #76B722;">A</div>
<div class="t" style="left:846.51px;top:123.00px;font-size:101.5px;color:#76B722;font-weight:bold;transform:scaleX(0.6821);-webkit-text-stroke:1.2px #76B722;text-shadow:1.9px 0 0 #76B722,-1.9px 0 0 #76B722;">T</div>
<div class="t" style="left:892.63px;top:123.00px;font-size:101.5px;color:#76B722;font-weight:bold;transform:scaleX(0.8773);-webkit-text-stroke:1.2px #76B722;text-shadow:1.9px 0 0 #76B722,-1.9px 0 0 #76B722;">I</div>
<div class="t" style="left:920.20px;top:123.00px;font-size:101.5px;color:#76B722;font-weight:bold;transform:scaleX(0.6532);-webkit-text-stroke:1.2px #76B722;text-shadow:1.9px 0 0 #76B722,-1.9px 0 0 #76B722;">S</div>
<div class="t" style="left:965.26px;top:123.00px;font-size:101.5px;color:#76B722;font-weight:bold;transform:scaleX(0.6642);-webkit-text-stroke:1.2px #76B722;text-shadow:1.9px 0 0 #76B722,-1.9px 0 0 #76B722;">T</div>
<div class="t" style="left:1010.35px;top:123.00px;font-size:101.5px;color:#76B722;font-weight:bold;transform:scaleX(0.8725);-webkit-text-stroke:1.2px #76B722;text-shadow:1.9px 0 0 #76B722,-1.9px 0 0 #76B722;">I</div>
<div class="t" style="left:1036.02px;top:123.00px;font-size:101.5px;color:#76B722;font-weight:bold;transform:scaleX(0.5711);-webkit-text-stroke:1.2px #76B722;text-shadow:1.9px 0 0 #76B722,-1.9px 0 0 #76B722;">C</div>
<div class="t" style="left:1081.79px;top:123.00px;font-size:101.5px;color:#76B722;font-weight:bold;transform:scaleX(0.6488);-webkit-text-stroke:1.2px #76B722;text-shadow:1.9px 0 0 #76B722,-1.9px 0 0 #76B722;">S</div>
<div class="t" style="left:721.26px;top:239.00px;font-size:15.5px;color:#1d1d1b;font-weight:normal;transform:scaleX(0.9009);-webkit-text-stroke:0.35px #1d1d1b;">Stastics derived from the REALTORS</div>
<div class="t" style="left:953.50px;top:240.00px;font-size:11px;color:#1d1d1b;font-weight:normal;transform:scaleX(1.0522);-webkit-text-stroke:0.35px #1d1d1b;">®</div>
<div class="t" style="left:964.60px;top:239.00px;font-size:15.5px;color:#1d1d1b;font-weight:normal;transform:scaleX(0.9444);-webkit-text-stroke:0.35px #1d1d1b;">Association of Edmonton</div>
<div class="t" style="left:175.94px;top:294.00px;font-size:25.2px;color:#1C2F57;font-weight:bold;transform:scaleX(0.9268);-webkit-text-stroke:0.6px #1C2F57;">SELLING PRICE</div>
<div class="t" style="left:254.10px;top:352.00px;font-size:27px;color:#1d1d1b;font-weight:normal;transform:scaleX(0.9238);-webkit-text-stroke:0.35px #1d1d1b;">All Residential</div>
<div class="t" style="left:255.00px;top:389.00px;font-size:23.6px;color:#1A2F5E;font-weight:normal;transform:scaleX(0.9510);-webkit-text-stroke:0.35px #1A2F5E;">$354,598</div>
<div class="t" style="left:355.20px;top:393.00px;font-size:18.3px;color:#1d1d1b;font-weight:normal;transform:scaleX(1.0747);-webkit-text-stroke:0.35px #1d1d1b;">Average</div>
<div class="t" style="left:242.35px;top:429.00px;font-size:14.8px;color:#79B833;font-weight:normal;transform:scaleX(1.0744);-webkit-text-stroke:0.35px #79B833;">Year over Year</div>
<div class="t" style="left:353.72px;top:429.00px;font-size:14.8px;color:#1d1d1b;font-weight:normal;transform:scaleX(1.0209);-webkit-text-stroke:0.35px #1d1d1b;">Decrease -5.47%</div>
<div class="t" style="left:241.28px;top:464.00px;font-size:14.8px;color:#79B833;font-weight:normal;transform:scaleX(1.1399);-webkit-text-stroke:0.35px #79B833;">Month over Month</div>
<div class="t" style="left:381.21px;top:464.00px;font-size:14.8px;color:#1d1d1b;font-weight:normal;transform:scaleX(1.0292);-webkit-text-stroke:0.35px #1d1d1b;">Increase 4.68%</div>
<div class="t" style="left:260.04px;top:531.00px;font-size:27px;color:#1d1d1b;font-weight:normal;transform:scaleX(0.8951);-webkit-text-stroke:0.35px #1d1d1b;">Single Family</div>
<div class="t" style="left:255.00px;top:568.00px;font-size:23.6px;color:#1A2F5E;font-weight:normal;transform:scaleX(0.9474);-webkit-text-stroke:0.35px #1A2F5E;">$430,000</div>
<div class="t" style="left:357.00px;top:572.00px;font-size:18.3px;color:#1d1d1b;font-weight:normal;transform:scaleX(1.0762);-webkit-text-stroke:0.35px #1d1d1b;">Average</div>
<div class="t" style="left:239.95px;top:611.00px;font-size:14.8px;color:#79B833;font-weight:normal;transform:scaleX(1.0806);-webkit-text-stroke:0.35px #79B833;">Year over Year</div>
<div class="t" style="left:350.52px;top:611.00px;font-size:14.8px;color:#1d1d1b;font-weight:normal;transform:scaleX(1.0235);-webkit-text-stroke:0.35px #1d1d1b;">Decrease -2.73%</div>
<div class="t" style="left:238.88px;top:643.00px;font-size:14.8px;color:#79B833;font-weight:normal;transform:scaleX(1.1441);-webkit-text-stroke:0.35px #79B833;">Month over Month</div>
<div class="t" style="left:378.51px;top:643.00px;font-size:14.8px;color:#1d1d1b;font-weight:normal;transform:scaleX(1.0302);-webkit-text-stroke:0.35px #1d1d1b;">Increase 6.36%</div>
<div class="t" style="left:300.50px;top:701.00px;font-size:27px;color:#1d1d1b;font-weight:normal;transform:scaleX(0.9520);-webkit-text-stroke:0.35px #1d1d1b;">Condo</div>
<div class="t" style="left:259.00px;top:747.00px;font-size:23.6px;color:#1A2F5E;font-weight:normal;transform:scaleX(0.9510);-webkit-text-stroke:0.35px #1A2F5E;">$222,267</div>
<div class="t" style="left:358.90px;top:751.00px;font-size:18.3px;color:#1d1d1b;font-weight:normal;transform:scaleX(1.0792);-webkit-text-stroke:0.35px #1d1d1b;">Average</div>
<div class="t" style="left:241.35px;top:787.00px;font-size:14.8px;color:#79B833;font-weight:normal;transform:scaleX(1.0713);-webkit-text-stroke:0.35px #79B833;">Year over Year</div>
<div class="t" style="left:349.12px;top:787.00px;font-size:14.8px;color:#1d1d1b;font-weight:normal;transform:scaleX(1.0244);-webkit-text-stroke:0.35px #1d1d1b;">Decrease -6.62%</div>
<div class="t" style="left:238.07px;top:820.00px;font-size:14.8px;color:#79B833;font-weight:normal;transform:scaleX(1.1510);-webkit-text-stroke:0.35px #79B833;">Month over Month</div>
<div class="t" style="left:378.51px;top:820.00px;font-size:14.8px;color:#1d1d1b;font-weight:normal;transform:scaleX(1.0302);-webkit-text-stroke:0.35px #1d1d1b;">Increase 1.64%</div>
<div class="t" style="left:237.73px;top:881.00px;font-size:27px;color:#1d1d1b;font-weight:normal;transform:scaleX(0.9323);-webkit-text-stroke:0.35px #1d1d1b;">Duplex/Rowhouse</div>
<div class="t" style="left:254.00px;top:920.00px;font-size:23.6px;color:#1A2F5E;font-weight:normal;transform:scaleX(0.9561);-webkit-text-stroke:0.35px #1A2F5E;">$321,288</div>
<div class="t" style="left:354.10px;top:924.00px;font-size:18.3px;color:#1d1d1b;font-weight:normal;transform:scaleX(1.0777);-webkit-text-stroke:0.35px #1d1d1b;">Average</div>
<div class="t" style="left:240.75px;top:958.00px;font-size:14.8px;color:#79B833;font-weight:normal;transform:scaleX(1.0806);-webkit-text-stroke:0.35px #79B833;">Year over Year</div>
<div class="t" style="left:352.92px;top:958.00px;font-size:14.8px;color:#1d1d1b;font-weight:normal;transform:scaleX(1.0209);-webkit-text-stroke:0.35px #1d1d1b;">Decrease -9.60%</div>
<div class="t" style="left:239.18px;top:993.00px;font-size:14.8px;color:#79B833;font-weight:normal;transform:scaleX(1.1407);-webkit-text-stroke:0.35px #79B833;">Month over Month</div>
<div class="t" style="left:379.12px;top:993.00px;font-size:14.8px;color:#1d1d1b;font-weight:normal;transform:scaleX(1.0235);-webkit-text-stroke:0.35px #1d1d1b;">Decrease -0.24%</div>
<div class="t" style="left:287.90px;top:1052.00px;font-size:27px;color:#1d1d1b;font-weight:normal;transform:scaleX(0.9239);-webkit-text-stroke:0.35px #1d1d1b;">Acreage</div>
<div class="t" style="left:249.30px;top:1091.00px;font-size:23.6px;color:#1A2F5E;font-weight:normal;transform:scaleX(0.9479);-webkit-text-stroke:0.35px #1A2F5E;">$461,742</div>
<div class="t" style="left:349.20px;top:1095.00px;font-size:18.3px;color:#1d1d1b;font-weight:normal;transform:scaleX(1.0807);-webkit-text-stroke:0.35px #1d1d1b;">Average</div>
<div class="t" style="left:242.15px;top:1122.00px;font-size:14.8px;color:#79B833;font-weight:normal;transform:scaleX(1.0775);-webkit-text-stroke:0.35px #79B833;">Year over Year</div>
<div class="t" style="left:351.63px;top:1122.00px;font-size:14.8px;color:#1d1d1b;font-weight:normal;transform:scaleX(1.0161);-webkit-text-stroke:0.35px #1d1d1b;">Decrease -5.3%</div>
<div class="t" style="left:239.18px;top:1150.00px;font-size:14.8px;color:#79B833;font-weight:normal;transform:scaleX(1.1450);-webkit-text-stroke:0.35px #79B833;">Month over Month</div>
<div class="t" style="left:379.71px;top:1150.00px;font-size:14.8px;color:#1d1d1b;font-weight:normal;transform:scaleX(1.0302);-webkit-text-stroke:0.35px #1d1d1b;">Increase 17.5%</div>
<div class="t" style="left:648.90px;top:296.00px;font-size:25.5px;color:#1C2F57;font-weight:bold;transform:scaleX(0.9926);-webkit-text-stroke:0.6px #1C2F57;">AVERAGE DAYS ON MARKET</div>
<div class="t" style="left:954.70px;top:337.00px;font-size:20.3px;color:#1A2F5E;font-weight:normal;transform:scaleX(1.0464);-webkit-text-stroke:0.35px #1A2F5E;">2018</div>
<div class="t" style="left:1030.91px;top:337.00px;font-size:20.3px;color:#79B833;font-weight:normal;transform:scaleX(1.0395);-webkit-text-stroke:0.35px #79B833;">2019</div>
<div class="t" style="left:576.30px;top:360.00px;font-size:19.0px;color:#1d1d1b;font-weight:normal;transform:scaleX(1.0467);-webkit-text-stroke:0.35px #1d1d1b;">All Residential</div>
<div class="t" style="left:575.80px;top:436.00px;font-size:19.0px;color:#1d1d1b;font-weight:normal;transform:scaleX(1.0084);-webkit-text-stroke:0.35px #1d1d1b;">Single Family</div>
<div class="t" style="left:575.37px;top:518.00px;font-size:19.0px;color:#1d1d1b;font-weight:normal;transform:scaleX(1.0455);-webkit-text-stroke:0.35px #1d1d1b;">Condo</div>
<div class="t" style="left:574.76px;top:597.00px;font-size:19.0px;color:#1d1d1b;font-weight:normal;transform:scaleX(1.0385);-webkit-text-stroke:0.35px #1d1d1b;">Duplex/Rowhouse</div>
<div class="t" style="left:580.30px;top:679.00px;font-size:19.0px;color:#1d1d1b;font-weight:normal;transform:scaleX(1.0286);-webkit-text-stroke:0.35px #1d1d1b;">Acreage</div>
<div class="t" style="left:956.72px;top:382.00px;font-size:18.2px;color:#79B833;font-weight:normal;transform:scaleX(1.0285);-webkit-text-stroke:0.35px #79B833;">73 days</div>
<div class="t" style="left:912.62px;top:410.00px;font-size:18.2px;color:#1A2F5E;font-weight:normal;transform:scaleX(1.0285);-webkit-text-stroke:0.35px #1A2F5E;">64 days</div>
<div class="t" style="left:941.53px;top:467.00px;font-size:18.2px;color:#79B833;font-weight:normal;transform:scaleX(1.0237);-webkit-text-stroke:0.35px #79B833;">70 days</div>
<div class="t" style="left:875.52px;top:493.00px;font-size:18.2px;color:#1A2F5E;font-weight:normal;transform:scaleX(1.0238);-webkit-text-stroke:0.35px #1A2F5E;">58 days</div>
<div class="t" style="left:969.22px;top:545.00px;font-size:18.2px;color:#79B833;font-weight:normal;transform:scaleX(1.0333);-webkit-text-stroke:0.35px #79B833;">76 days</div>
<div class="t" style="left:960.72px;top:574.00px;font-size:18.2px;color:#1A2F5E;font-weight:normal;transform:scaleX(1.0285);-webkit-text-stroke:0.35px #1A2F5E;">74 days</div>
<div class="t" style="left:983.71px;top:623.00px;font-size:18.2px;color:#79B833;font-weight:normal;transform:scaleX(1.0334);-webkit-text-stroke:0.35px #79B833;">80 days</div>
<div class="t" style="left:897.91px;top:651.00px;font-size:18.2px;color:#1A2F5E;font-weight:normal;transform:scaleX(1.0381);-webkit-text-stroke:0.35px #1A2F5E;">62 days</div>
<div class="t" style="left:1010.64px;top:680.00px;font-size:18.2px;color:#79B833;font-weight:normal;transform:scaleX(1.0186);-webkit-text-stroke:0.35px #79B833;">130 days</div>
<div class="t" style="left:548.98px;top:765.00px;font-size:19.8px;color:#1d1d1b;font-weight:normal;transform:scaleX(1.0000);-webkit-text-stroke:0.35px #1d1d1b;">0</div>
<div class="t" style="left:645.06px;top:765.00px;font-size:19.8px;color:#1d1d1b;font-weight:normal;transform:scaleX(1.1164);-webkit-text-stroke:0.35px #1d1d1b;">20</div>
<div class="t" style="left:748.06px;top:765.00px;font-size:19.8px;color:#1d1d1b;font-weight:normal;transform:scaleX(1.1121);-webkit-text-stroke:0.35px #1d1d1b;">40</div>
<div class="t" style="left:850.14px;top:765.00px;font-size:19.8px;color:#1d1d1b;font-weight:normal;transform:scaleX(1.1406);-webkit-text-stroke:0.35px #1d1d1b;">60</div>
<div class="t" style="left:953.70px;top:765.00px;font-size:19.8px;color:#1d1d1b;font-weight:normal;transform:scaleX(1.1381);-webkit-text-stroke:0.35px #1d1d1b;">80</div>
<div class="t" style="left:1051.13px;top:765.00px;font-size:19.8px;color:#1d1d1b;font-weight:normal;transform:scaleX(1.1085);-webkit-text-stroke:0.35px #1d1d1b;">100</div>
<div class="t" style="left:593.93px;top:817.00px;font-size:25.2px;color:#1C2F57;font-weight:bold;transform:scaleX(0.9523);-webkit-text-stroke:0.6px #1C2F57;">ALL RESIDENTIAL SALES &amp; LISTINGS</div>
<div class="t" style="left:609.63px;top:935.00px;font-size:30px;color:transparent;font-weight:bold;transform:scaleX(0.7869);-webkit-text-stroke:0;">for SALE</div>
<div class="t" style="left:609.43px;top:1115.00px;font-size:30px;color:transparent;font-weight:bold;transform:scaleX(1.2221);-webkit-text-stroke:0;">SOLD</div>
<div class="t" style="left:809.44px;top:867.00px;font-size:38px;color:#1A2F5E;font-weight:normal;transform:scaleX(1.0439);-webkit-text-stroke:0.35px #1A2F5E;">7,422</div>
<div class="t" style="left:918.72px;top:865.00px;font-size:19.8px;color:#1d1d1b;font-weight:normal;transform:scaleX(1.0189);-webkit-text-stroke:0.35px #1d1d1b;">Residential</div>
<div class="t" style="left:925.28px;top:883.00px;font-size:19.8px;color:#1d1d1b;font-weight:normal;transform:scaleX(1.0489);-webkit-text-stroke:0.35px #1d1d1b;">Inventory</div>
<div class="t" style="left:802.95px;top:921.00px;font-size:14.8px;color:#79B833;font-weight:normal;transform:scaleX(1.0765);-webkit-text-stroke:0.35px #79B833;">Year over Year</div>
<div class="t" style="left:916.02px;top:920.00px;font-size:14.8px;color:#1d1d1b;font-weight:normal;transform:scaleX(1.0233);-webkit-text-stroke:0.35px #1d1d1b;">Increase 4.31%</div>
<div class="t" style="left:803.27px;top:958.00px;font-size:14.8px;color:#79B833;font-weight:normal;transform:scaleX(1.1467);-webkit-text-stroke:0.35px #79B833;">Month over Month</div>
<div class="t" style="left:947.31px;top:958.00px;font-size:14.8px;color:#1d1d1b;font-weight:normal;transform:scaleX(1.0292);-webkit-text-stroke:0.35px #1d1d1b;">Increase 4.89%</div>
<div class="t" style="left:803.32px;top:1038.00px;font-size:38px;color:#1A2F5E;font-weight:normal;transform:scaleX(1.0536);-webkit-text-stroke:0.35px #1A2F5E;">986</div>
<div class="t" style="left:883.63px;top:1032.00px;font-size:20.2px;color:#1d1d1b;font-weight:normal;transform:scaleX(0.9313);-webkit-text-stroke:0.35px #1d1d1b;">February Sales</div>
<div class="t" style="left:885.10px;top:1053.00px;font-size:20.2px;color:#1d1d1b;font-weight:normal;transform:scaleX(0.9845);-webkit-text-stroke:0.35px #1d1d1b;">All Residential</div>
<div class="t" style="left:803.85px;top:1093.00px;font-size:14.8px;color:#79B833;font-weight:normal;transform:scaleX(1.0806);-webkit-text-stroke:0.35px #79B833;">Year over Year</div>
<div class="t" style="left:916.21px;top:1093.00px;font-size:14.8px;color:#1d1d1b;font-weight:normal;transform:scaleX(1.0327);-webkit-text-stroke:0.35px #1d1d1b;">Decrease -11.01%</div>
<div class="t" style="left:802.07px;top:1130.00px;font-size:14.8px;color:#79B833;font-weight:normal;transform:scaleX(1.1475);-webkit-text-stroke:0.35px #79B833;">Month over Month</div>
<div class="t" style="left:944.10px;top:1130.00px;font-size:14.8px;color:#1d1d1b;font-weight:normal;transform:scaleX(1.0349);-webkit-text-stroke:0.35px #1d1d1b;">Increase 23.40%</div>
<div class="t" style="left:468.01px;top:1237.00px;font-size:24.2px;color:#1C2F57;font-weight:bold;transform:scaleX(0.9883);-webkit-text-stroke:0.6px #1C2F57;">HIGH ROLLERS!</div>
<div class="t" style="left:236.48px;top:1265.00px;font-size:20.5px;color:#1d1d1b;font-weight:normal;transform:scaleX(0.9977);-webkit-text-stroke:0.35px #1d1d1b;">The highest priced properties both listed and sold in the month of February.</div>
<div class="t" style="left:160.35px;top:1311.00px;font-size:20px;color:#1d1d1b;font-weight:normal;transform:scaleX(1.0384);-webkit-text-stroke:0.35px #1d1d1b;">Single Family</div>
<div class="t" style="left:171.00px;top:1347.00px;font-size:20px;color:#79B833;font-weight:normal;transform:scaleX(1.0141);-webkit-text-stroke:0.35px #79B833;">$7,250,000</div>
<div class="t" style="left:196.11px;top:1366.00px;font-size:17.3px;color:#1d1d1b;font-weight:normal;transform:scaleX(1.0264);-webkit-text-stroke:0.35px #1d1d1b;">Listed</div>
<div class="t" style="left:179.50px;top:1397.00px;font-size:20px;color:#79B833;font-weight:normal;transform:scaleX(1.0191);-webkit-text-stroke:0.35px #79B833;">$1,699,900</div>
<div class="t" style="left:201.96px;top:1416.00px;font-size:17.3px;color:#1d1d1b;font-weight:normal;transform:scaleX(0.9966);-webkit-text-stroke:0.35px #1d1d1b;">Sold</div>
<div class="t" style="left:461.54px;top:1311.00px;font-size:20px;color:#1d1d1b;font-weight:normal;transform:scaleX(1.0197);-webkit-text-stroke:0.35px #1d1d1b;">Condos</div>
<div class="t" style="left:449.20px;top:1347.00px;font-size:20px;color:#79B833;font-weight:normal;transform:scaleX(1.0060);-webkit-text-stroke:0.35px #79B833;">$1,688,800</div>
<div class="t" style="left:475.83px;top:1366.00px;font-size:17.3px;color:#1d1d1b;font-weight:normal;transform:scaleX(1.0173);-webkit-text-stroke:0.35px #1d1d1b;">Listed</div>
<div class="t" style="left:457.70px;top:1395.00px;font-size:20px;color:#79B833;font-weight:normal;transform:scaleX(1.0058);-webkit-text-stroke:0.35px #79B833;">$999,000</div>
<div class="t" style="left:482.07px;top:1414.00px;font-size:17.3px;color:#1d1d1b;font-weight:normal;transform:scaleX(0.9845);-webkit-text-stroke:0.35px #1d1d1b;">Sold</div>
<div class="t" style="left:743.98px;top:1293.00px;font-size:20px;color:#1d1d1b;font-weight:normal;transform:scaleX(1.0389);-webkit-text-stroke:0.35px #1d1d1b;">Duplex/</div>
<div class="t" style="left:731.40px;top:1313.00px;font-size:20px;color:#1d1d1b;font-weight:normal;transform:scaleX(1.0236);-webkit-text-stroke:0.35px #1d1d1b;">Rowhouse</div>
<div class="t" style="left:743.70px;top:1347.00px;font-size:20px;color:#79B833;font-weight:normal;transform:scaleX(0.9829);-webkit-text-stroke:0.35px #79B833;">$789,900</div>
<div class="t" style="left:761.66px;top:1366.00px;font-size:17.3px;color:#1d1d1b;font-weight:normal;transform:scaleX(0.9922);-webkit-text-stroke:0.35px #1d1d1b;">Listed</div>
<div class="t" style="left:743.70px;top:1394.00px;font-size:20px;color:#79B833;font-weight:normal;transform:scaleX(0.9768);-webkit-text-stroke:0.35px #79B833;">$650,000</div>
<div class="t" style="left:765.88px;top:1415.00px;font-size:17.3px;color:#1d1d1b;font-weight:normal;transform:scaleX(0.9543);-webkit-text-stroke:0.35px #1d1d1b;">Sold</div>
<div class="t" style="left:998.30px;top:1312.00px;font-size:20px;color:#1d1d1b;font-weight:normal;transform:scaleX(1.0099);-webkit-text-stroke:0.35px #1d1d1b;">Acreages</div>
<div class="t" style="left:997.50px;top:1344.00px;font-size:20px;color:#79B833;font-weight:normal;transform:scaleX(0.9789);-webkit-text-stroke:0.35px #79B833;">$2,350,000</div>
<div class="t" style="left:1017.06px;top:1366.00px;font-size:17.3px;color:#1d1d1b;font-weight:normal;transform:scaleX(0.9922);-webkit-text-stroke:0.35px #1d1d1b;">Listed</div>
<div class="t" style="left:1001.50px;top:1396.00px;font-size:20px;color:#79B833;font-weight:normal;transform:scaleX(0.9789);-webkit-text-stroke:0.35px #79B833;">$1,720,000</div>
<div class="t" style="left:1026.68px;top:1418.00px;font-size:17.3px;color:#1d1d1b;font-weight:normal;transform:scaleX(0.9664);-webkit-text-stroke:0.35px #1d1d1b;">Sold</div>
</body></html>
